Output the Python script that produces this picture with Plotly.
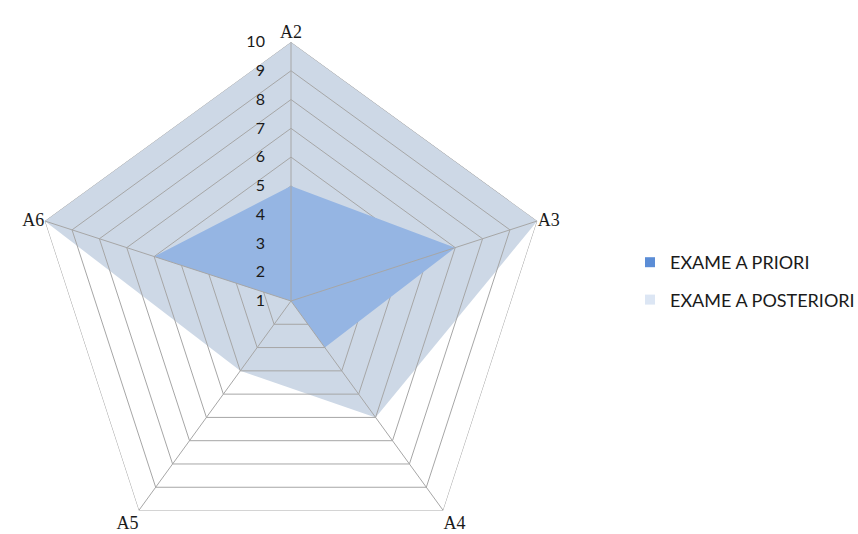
import plotly.graph_objects as go

# ---- data ----
categories = ["A2", "A3", "A4", "A5", "A6"]
exame_priori = [5, 7, 3, 1, 6]
exame_posteriori = [10, 10, 6, 4, 10]
tick_vals = list(range(1, 11))
series_names = ["EXAME A PRIORI", "EXAME A POSTERIORI"]

# ---- geometry / style ----
W, H = 858, 570
cx, cy, R = 291, 301, 259
ring_color = "#a6a6a6"
post_fill = "#cdd8e6"
prior_fill = "#95b5e3"
legend_colors = ["#5b8dd6", "#dce6f4"]

closed_theta = categories + [categories[0]]


def closed(vals):
    return list(vals) + [vals[0]]


fig = go.Figure()

# posterior area (bottom)
fig.add_trace(go.Scatterpolar(
    r=closed(exame_posteriori), theta=closed_theta, fill="toself",
    fillcolor=post_fill, mode="none", showlegend=False, hoverinfo="skip"))

# concentric polygon gridlines, drawn above posterior but below priori
for lvl in tick_vals[1:]:
    fig.add_trace(go.Scatterpolar(
        r=[lvl] * len(closed_theta), theta=closed_theta, mode="lines",
        line=dict(color=ring_color, width=1), showlegend=False, hoverinfo="skip"))

# priori area
fig.add_trace(go.Scatterpolar(
    r=closed(exame_priori), theta=closed_theta, fill="toself",
    fillcolor=prior_fill, mode="none", showlegend=False, hoverinfo="skip"))

# spokes on top
for c in categories:
    fig.add_trace(go.Scatterpolar(
        r=[tick_vals[0], tick_vals[-1]], theta=[c, c], mode="lines",
        line=dict(color=ring_color, width=1), showlegend=False, hoverinfo="skip"))

# legend entries
for i, (nm, col) in enumerate(zip(series_names, legend_colors)):
    fig.add_trace(go.Scatterpolar(
        r=[None], theta=[categories[0]], mode="markers", name=nm,
        legendgroup=f"g{i}",
        marker=dict(symbol="square", size=10, color=col, line=dict(width=0))))

fig.update_layout(
    width=W, height=H,
    margin=dict(l=0, r=0, t=0, b=0, autoexpand=False),
    paper_bgcolor="white",
    plot_bgcolor="white",
    showlegend=True,
    legend=dict(
        x=630 / W, xanchor="left", y=(H - 244) / H, yanchor="top",
        traceorder="grouped", tracegroupgap=11,
        font=dict(family="Lato", size=18, color="#1a1a1a"),
        bgcolor="rgba(0,0,0,0)"),
    polar=dict(
        domain=dict(x=[(cx - R) / W, (cx + R) / W],
                    y=[(H - cy - R) / H, (H - cy + R) / H]),
        gridshape="linear",
        bgcolor="rgba(0,0,0,0)",
        radialaxis=dict(
            range=[1, 10], tickvals=tick_vals, angle=90, tickangle=90,
            side="counterclockwise", showgrid=False, showline=False,
            ticks="outside", ticklen=20, tickcolor="rgba(0,0,0,0)",
            tickfont=dict(family="Lato", size=16, color="#1a1a1a")),
        angularaxis=dict(
            categoryarray=categories, categoryorder="array",
            direction="clockwise", rotation=90,
            showgrid=False, showline=False, ticks="",
            tickfont=dict(family="Liberation Serif", size=18, color="#1a1a1a")),
    ),
)

fig.write_html(
    "out.html",
    post_script="document.body.style.overflow='hidden';document.documentElement.style.overflow='hidden';")
